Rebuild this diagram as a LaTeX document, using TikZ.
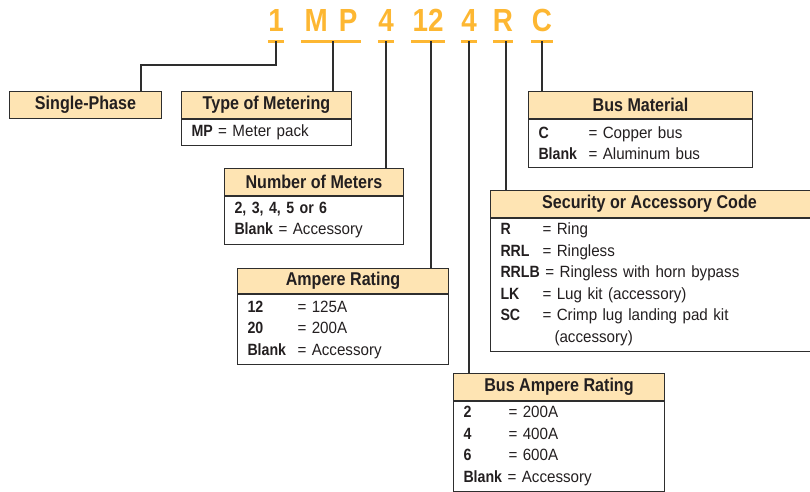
\documentclass[tikz,border=0pt]{standalone}
\usepackage{fontspec}
\setmainfont{Liberation Sans}[FakeStretch=0.93,BoldFeatures={FakeStretch=0.87}]
\usetikzlibrary{positioning}
\definecolor{codeorange}{HTML}{FDB732}
\definecolor{peach}{HTML}{FEE4B3}
\definecolor{frame}{HTML}{2E2E2E}
\definecolor{ink}{HTML}{231F20}
\newcommand{\codeitem}[3][50pt]{\makebox[#1][l]{\textbf{#2}}= #3}
\begin{document}
\begin{tikzpicture}[x=1pt,y=-1pt,text=ink,
  code/.style={minimum width=#1,inner sep=0pt,text depth=9pt,anchor=south,text=codeorange,font=\fontsize{32}{32}\selectfont\bfseries},
  uline/.style={codeorange,line width=3pt},
  lead/.style={frame,line width=1.3pt},
  hdr/.style={draw=frame,line width=1pt,fill=peach,inner sep=0pt,minimum width=#1,minimum height=26.5pt,anchor=north west,font=\fontsize{18.5}{20}\selectfont\bfseries},
  body/.style={draw=frame,line width=1pt,inner xsep=10pt,inner ysep=0pt,text width=#1-20pt,anchor=north west,align=left,font=\fontsize{16.3}{21.5}\selectfont}]
\useasboundingbox (0,0) rectangle (810,491);
% model code
\node[code=16pt] (c1) at (276,41) {1};
\node[code=60pt] (cMP) at (331,41) {M\hspace{11pt}P};
\node[code=16pt] (cMet) at (386,41) {4};
\node[code=33pt] (cAmp) at (428,41) {12};
\node[code=16pt] (cBus) at (469,41) {4};
\node[code=16pt] (cSec) at (503,41) {R};
\node[code=21pt] (cMat) at (542,41) {C};
\foreach \c in {c1,cMP,cMet,cAmp,cBus,cSec,cMat}
  \draw[uline] (\c.south west) -- (\c.south east);
% boxes
\node[hdr=152pt] (single) at (9,91) {Single-Phase};
\node[hdr=170pt] (type) at (181,91) {Type of Metering};
\node[body=170pt,minimum height=26pt] (typeB) at (type.south west) {\textbf{MP} = Meter pack};
\node[hdr=179pt] (meters) at (224,168) {Number of Meters};
\node[body=179pt,minimum height=48pt] (metersB) at (meters.south west) {\textbf{2, 3, 4, 5 or 6}\\\textbf{Blank} = Accessory};
\node[hdr=211pt,minimum height=25pt] (amp) at (237,268) {Ampere Rating};
\node[body=211pt,minimum height=70pt] (ampB) at (amp.south west) {\codeitem{12}{125A}\\\codeitem{20}{200A}\\\codeitem{Blank}{Accessory}};
\node[hdr=224pt] (mat) at (528,91) {Bus Material};
\node[body=224pt,minimum height=48pt] (matB) at (mat.south west) {\codeitem{C}{Copper bus}\\\codeitem{Blank}{Aluminum bus}};
\node[hdr=322pt] (sec) at (490,190) {\hspace*{-2pt}Security or Accessory Code\hspace*{2pt}};
\node[body=322pt,minimum height=133pt] (secB) at (sec.south west) {\codeitem[42pt]{R}{Ring}\\\codeitem[42pt]{RRL}{Ringless}\\\textbf{RRLB} = Ringless with horn bypass\\\codeitem[42pt]{LK}{Lug kit (accessory)}\\\codeitem[42pt]{SC}{Crimp lug landing pad kit}\\\hspace*{54pt}(accessory)};
\node[hdr=211pt] (bus) at (453,373) {Bus Ampere Rating};
\node[body=211pt,minimum height=90pt] (busB) at (bus.south west) {\codeitem[45pt]{2}{200A}\\\codeitem[45pt]{4}{400A}\\\codeitem[45pt]{6}{600A}\\\textbf{Blank} = Accessory};
% leads
\coordinate (k1) at (141,65);
\draw[lead] (c1.south) |- (k1) -- (k1 |- single.north);
\draw[lead] ([xshift=2pt]cMP.south) -- ([xshift=2pt]cMP.south |- type.north);
\draw[lead] (cMet.south) -- (cMet.south |- meters.north);
\draw[lead] ([xshift=3pt]cAmp.south) -- ([xshift=3pt]cAmp.south |- amp.north);
\draw[lead] (cBus.south) -- (cBus.south |- bus.north);
\draw[lead] ([xshift=3pt]cSec.south) -- ([xshift=3pt]cSec.south |- sec.north);
\draw[lead] (cMat.south) -- (cMat.south |- mat.north);
\end{tikzpicture}
\end{document}
